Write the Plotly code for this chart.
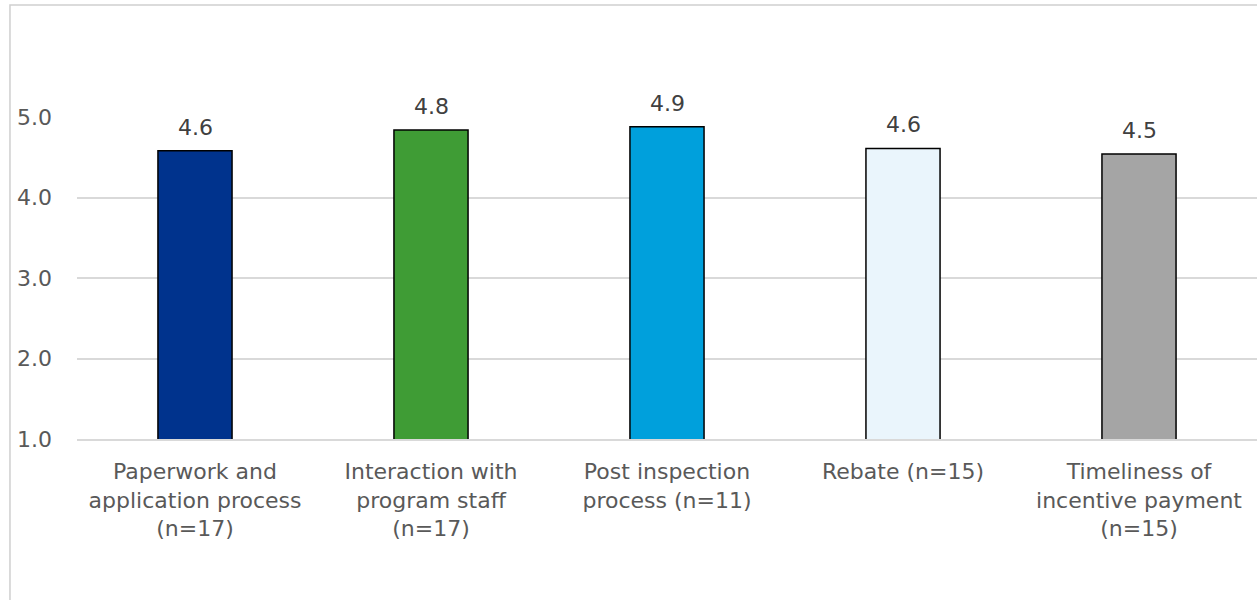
import plotly.graph_objects as go

categories = [
    "Paperwork and<br>application process<br>(n=17)",
    "Interaction with<br>program staff<br>(n=17)",
    "Post inspection<br>process (n=11)",
    "Rebate (n=15)",
    "Timeliness of<br>incentive payment<br>(n=15)",
]
values = [4.58, 4.84, 4.88, 4.61, 4.54]
value_labels = ["4.6", "4.8", "4.9", "4.6", "4.5"]
bar_colors = ["#00338D", "#3F9C35", "#00A0DC", "#EAF5FC", "#A5A5A5"]
y_ticks = [1, 2, 3, 4, 5]
y_tick_labels = ["1.0", "2.0", "3.0", "4.0", "5.0"]

FONT = "DejaVu Sans"
TXT = "#595959"

fig = go.Figure()
fig.add_trace(go.Bar(
    x=categories,
    y=values,
    marker=dict(color=bar_colors, line=dict(color="#000000", width=1.5)),
    width=0.314,
    hoverinfo="skip",
))

for c, v, lab in zip(categories, values, value_labels):
    fig.add_annotation(
        x=c, y=v, text=lab, showarrow=False, yanchor="bottom", yshift=9,
        font=dict(family=FONT, size=22, color="#404040"),
    )

fig.add_shape(
    type="rect", xref="paper", yref="paper",
    x0=-0.0568, x1=1.02, y0=-1.0, y1=1.348,
    line=dict(color="#cfcfcf", width=1.5), fillcolor="rgba(0,0,0,0)", layer="below",
)

fig.update_layout(
    width=1257, height=600,
    margin=dict(l=77, r=0, t=117, b=161),
    paper_bgcolor="white", plot_bgcolor="white",
    showlegend=False,
    font=dict(family=FONT, size=22, color=TXT),
    bargap=0.686,
)
fig.update_xaxes(
    showgrid=False, zeroline=False,
    showline=True, linecolor="#d9d9d9", linewidth=1.5,
    ticks="", tickfont=dict(family=FONT, size=22, color=TXT),
    ticklabelstandoff=12,
)
fig.update_yaxes(
    range=[1, 5], tickvals=y_ticks, ticktext=y_tick_labels,
    showgrid=True, gridcolor="#d9d9d9", gridwidth=1.5,
    zeroline=False, showline=False, ticks="",
    tickfont=dict(family=FONT, size=22, color=TXT),
    ticklabelstandoff=24,
)

fig.write_html("out.html")
